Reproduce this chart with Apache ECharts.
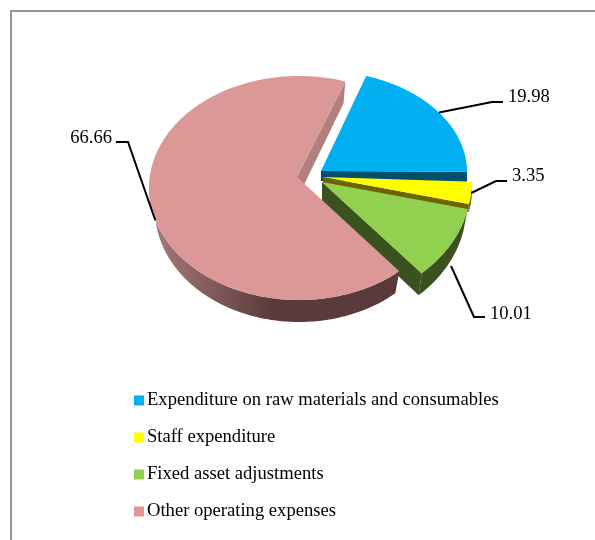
<!DOCTYPE html>
<html>
<head>
<meta charset="utf-8">
<style>html,body{margin:0;padding:0;background:#fff}#chart{width:595px;height:540px}</style>
<script src="https://cdn.jsdelivr.net/npm/echarts@6/dist/echarts.min.js"></script>
</head>
<body>
<div id="chart"></div>
<script>
// Operating expense shares, in percent
const categories = [
  'Expenditure on raw materials and consumables',
  'Staff expenditure',
  'Fixed asset adjustments',
  'Other operating expenses'
];
const shareValues = [19.98, 3.35, 10.01, 66.66];
const topColors = ['#00b0f0', '#ffff00', '#92d050', '#dc9896'];
const edgeColors = ['#004f6d', '#6b6400', '#3b5120', '#b27f7f'];
const rimColors = ['#004f6d', '#6b6400', '#3b5120', null];

const FIRST_SLICE_ANGLE = 18;
const SERIF = '"Liberation Serif", "Times New Roman", serif';
const TEXT_SIZE = 18.6;

// Tilted-disc placement of each exploded slice; the lower ring narrows a little with distance
const sliceLayouts = [
  { apex: [321, 171], centre: [321, 172], rx: 146, ry: 101, depth: 10, narrow: 1,
    leaderShift: [0, 0], elbow: [492, 102], tail: 503, textX: 508, textY: 97, align: 'left' },
  { apex: [323, 177], centre: [323, 182], rx: 149, ry: 106, depth: 8, narrow: 1,
    leaderShift: [0, 0], elbow: [496, 181], tail: 507, textX: 512, textY: 176.5, align: 'left' },
  { apex: [322, 182], centre: [322, 184], rx: 149, ry: 120, depth: 22, narrow: 0.97,
    leaderShift: [0, 22], elbow: [474, 317], tail: 485, textX: 490, textY: 314.5, align: 'left' },
  { apex: [297, 177], centre: [299, 188], rx: 150, ry: 112, depth: 22, narrow: 0.96,
    leaderShift: [3, 9], elbow: [128, 142], tail: 116, textX: 112, textY: 138, align: 'right' }
];

const total = shareValues.reduce((a, b) => a + b, 0);
let running = FIRST_SLICE_ANGLE;
const sliceAngles = shareValues.map(v => {
  const from = running;
  running += v / total * 360;
  return [from, running];
});

function onRim(layout, deg) {
  const t = deg * Math.PI / 180;
  return [layout.centre[0] + layout.rx * Math.sin(t), layout.centre[1] - layout.ry * Math.cos(t)];
}

function arcPoints(layout, from, to) {
  const pts = [];
  const steps = Math.max(2, Math.ceil(to - from));
  for (let i = 0; i <= steps; i++) pts.push(onRim(layout, from + (to - from) * i / steps));
  return pts;
}

function lowered(layout, p) {
  return [layout.centre[0] + (p[0] - layout.centre[0]) * layout.narrow, p[1] + layout.depth];
}

function renderSlice(index) {
  return function (params, api) {
    const value = api.value(0);
    const layout = sliceLayouts[index];
    const [from, to] = sliceAngles[index];
    const children = [];

    // Outer wall: only the stretch of rim that faces the viewer
    const wallFrom = Math.max(from, 90), wallTo = Math.min(to, 270);
    if (wallTo > wallFrom) {
      const rim = arcPoints(layout, wallFrom, wallTo);
      const lower = rim.map(p => lowered(layout, p)).reverse();
      const fill = rimColors[index] || new echarts.graphic.LinearGradient(1, 0, 0, 0, [
        { offset: 0, color: '#5a3a3a' },
        { offset: 0.5, color: '#5a3a3a' },
        { offset: 1, color: '#a97b7b' }
      ]);
      children.push({ type: 'polygon', shape: { points: rim.concat(lower) }, style: { fill } });
    }

    // Cut face along the closing edge of the slice
    const endPt = onRim(layout, to);
    children.push({
      type: 'polygon',
      shape: { points: [layout.apex, endPt, lowered(layout, endPt), lowered(layout, layout.apex)] },
      style: { fill: edgeColors[index] }
    });

    // Top face
    children.push({
      type: 'polygon',
      shape: { points: [layout.apex].concat(arcPoints(layout, from, to)) },
      style: { fill: topColors[index] }
    });

    // Leader line and value label
    const mid = onRim(layout, (from + to) / 2);
    const start = [mid[0] + layout.leaderShift[0], mid[1] + layout.leaderShift[1]];
    children.push({
      type: 'polyline',
      shape: { points: [start, layout.elbow, [layout.tail, layout.elbow[1]]] },
      style: { stroke: '#000', lineWidth: 2, fill: null }
    });
    children.push({
      type: 'text',
      style: {
        text: value.toFixed(2), x: layout.textX, y: layout.textY,
        align: layout.align, verticalAlign: 'middle',
        font: TEXT_SIZE + 'px ' + SERIF, fill: '#000'
      }
    });
    return { type: 'group', children };
  };
}

const chart = echarts.init(document.getElementById('chart'), null, { renderer: 'canvas' });
chart.setOption({
  animation: false,
  backgroundColor: '#fff',
  legend: {
    orient: 'vertical',
    left: 134,
    top: 391,
    padding: 0,
    itemWidth: 10,
    itemHeight: 10,
    itemGap: 18,
    icon: 'rect',
    selectedMode: false,
    data: categories,
    textStyle: { fontFamily: SERIF, fontSize: TEXT_SIZE, color: '#000', padding: [0, 0, 0, -2] }
  },
  graphic: [
    { type: 'line', shape: { x1: 11, y1: 540, x2: 11, y2: 11 }, style: { stroke: '#969696', lineWidth: 2 } },
    { type: 'line', shape: { x1: 10, y1: 11, x2: 595, y2: 11 }, style: { stroke: '#969696', lineWidth: 2 } }
  ],
  series: categories.map((name, i) => ({
    type: 'custom',
    name,
    coordinateSystem: 'none',
    itemStyle: { color: topColors[i] },
    renderItem: renderSlice(i),
    data: [[shareValues[i]]],
    silent: true
  }))
});
</script>
</body>
</html>
